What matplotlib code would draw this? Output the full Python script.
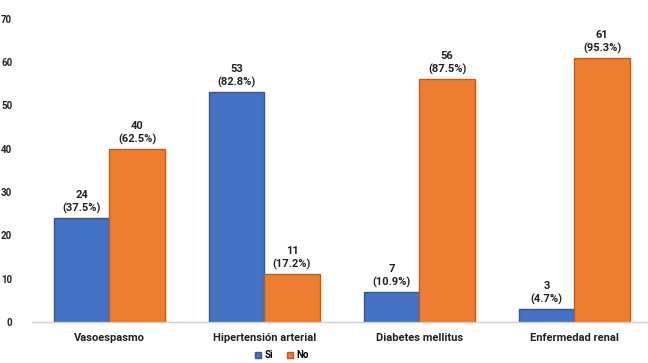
import numpy as np
import matplotlib
matplotlib.use('Agg')
import matplotlib.pyplot as plt

# Counts per condition, split by yes / no
categories = ['Vasoespasmo', 'Hipertensión arterial', 'Diabetes mellitus',
              'Enfermedad renal']
si_counts = [24, 53, 7, 3]
no_counts = [40, 11, 56, 61]
si_pct = [37.5, 82.8, 10.9, 4.7]
no_pct = [62.5, 17.2, 87.5, 95.3]
y_ticks = [0, 10, 20, 30, 40, 50, 60, 70]

plt.rcParams['font.family'] = ['Roboto', 'DejaVu Sans']

blue, blue_edge = '#4472C4', '#2F55A0'
orange, orange_edge = '#ED7D31', '#C55A11'

fig = plt.figure(figsize=(6.48, 3.63), dpi=100)
ax = fig.add_axes([0.049, 0.113, 0.957, 0.835])

x = np.arange(len(categories))
w = 0.358
b_si = ax.bar(x - w / 2, si_counts, w, color=blue, edgecolor=blue_edge,
              linewidth=1.0, label='Si')
b_no = ax.bar(x + w / 2, no_counts, w, color=orange, edgecolor=orange_edge,
              linewidth=1.0, label='No')

for bars, vals, pcts in [(b_si, si_counts, si_pct), (b_no, no_counts, no_pct)]:
    for bar, v, p in zip(bars, vals, pcts):
        ax.annotate(f'{v}\n({p}%)', (bar.get_x() + bar.get_width() / 2, v),
                    xytext=(0, 3), textcoords='offset points',
                    ha='center', va='bottom', fontsize=8, fontweight='bold',
                    linespacing=1.3, color='#222222')

ax.set_xlim(-0.5, 3.5)
ax.set_ylim(0, 70)
ax.set_yticks(y_ticks)
ax.set_xticks(x)
ax.set_xticklabels(categories, fontsize=8, fontweight='bold')
for lbl in ax.get_yticklabels():
    lbl.set_fontsize(7)
    lbl.set_fontweight('bold')
ax.tick_params(axis='both', length=0, colors='#222222')
ax.tick_params(axis='y', pad=14)
ax.tick_params(axis='x', pad=8)

for side in ['top', 'right', 'left']:
    ax.spines[side].set_visible(False)
ax.spines['bottom'].set_color('#D0D0D0')
ax.spines['bottom'].set_linewidth(1.0)

leg = fig.legend(handles=[b_si, b_no], labels=['Si', 'No'], loc='center',
                 bbox_to_anchor=(0.435, 0.022), ncol=2, frameon=False,
                 handlelength=0.6, handleheight=0.6, handletextpad=0.4,
                 columnspacing=1.4,
                 prop={'size': 7, 'weight': 'bold', 'family': 'Roboto'})

fig.savefig('out.png', dpi=100)
